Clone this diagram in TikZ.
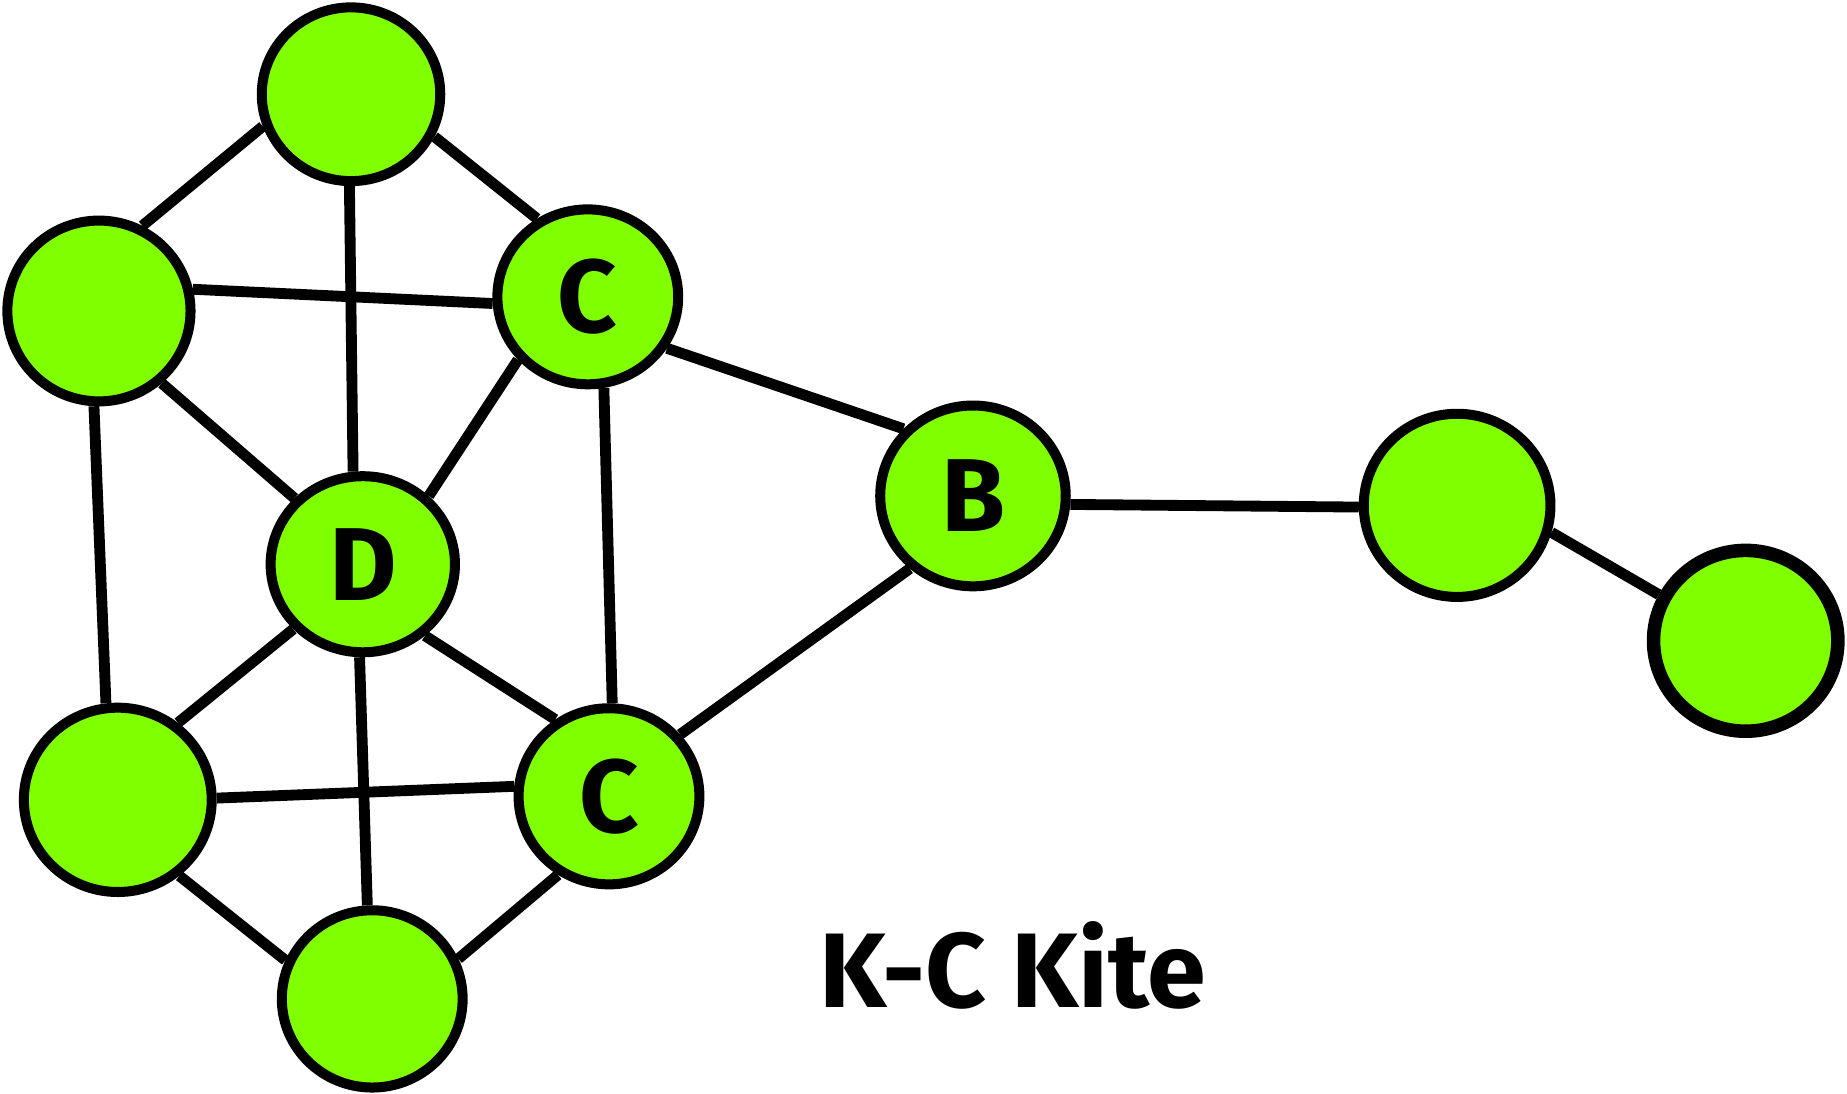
\documentclass[tikz,border=0pt]{standalone}
\usepackage{fontspec}
\setmainfont{Fira Sans}
\usetikzlibrary{shapes.geometric,backgrounds}
\definecolor{nodegreen}{RGB}{127,255,0}
\tikzset{
  vtx/.style 2 args={ellipse, draw=black, fill=nodegreen, line width=4.25pt,
    inner sep=0pt, minimum width=#1, minimum height=#2,
    font=\fontsize{44}{44}\selectfont\bfseries},
  edge/.style={draw=black, line width=4.6pt},
  title/.style={font=\fontsize{45}{46}\selectfont\bfseries, inner sep=0pt}
}
\begin{document}
\begin{tikzpicture}[x=0.5pt,y=-0.5pt]
\useasboundingbox (0,0) rectangle (1568,928);
\node[vtx={75.75pt}{73.75pt}] (top) at (298,80) {};
\node[vtx={77.75pt}{76.75pt}] (L1) at (84,264) {};
\node[vtx={76.75pt}{74.25pt}] (Ct) at (499,252) {C};
\node[vtx={78.25pt}{74.75pt}] (D) at (308,479) {D};
\node[vtx={78.75pt}{76.75pt}] (B) at (826,421) {B};
\node[vtx={79.25pt}{77.75pt}] (R1) at (1237,429) {};
\node[vtx={78.25pt}{76.75pt}, line width=5.75pt] (R2) at (1482,544) {};
\node[vtx={79.75pt}{78.25pt}] (BL) at (100,679) {};
\node[vtx={76.75pt}{74.75pt}] (Cb) at (517,676) {C};
\node[vtx={76.75pt}{75.25pt}] (Bot) at (316,848) {};
\begin{scope}[on background layer]
\draw[edge] (top.200) -- (L1.63);
\draw[edge] (top.333) -- (Ct.123);
\draw[edge] (top.269) -- (D.96);
\draw[edge] (L1.13) -- (Ct.184);
\draw[edge] (L1.311) -- (D.136);
\draw[edge] (L1.267) -- (BL.97);
\draw[edge] (Ct.222) -- (D.46);
\draw[edge] (Ct.280) -- (Cb.88);
\draw[edge] (Ct.327) -- (B.136);
\draw[edge] (D.223) -- (BL.52);
\draw[edge] (D.311) -- (Cb.125);
\draw[edge] (D.268) -- (Bot.93);
\draw[edge] (BL.1) -- (Cb.174);
\draw[edge] (BL.309) -- (Bot.156);
\draw[edge] (Cb.237) -- (Bot.25);
\draw[edge] (Cb.41) -- (B.229);
\draw[edge] (B.355) -- (R1.181);
\draw[edge] (R1.344) -- (R2.152);
\end{scope}
\node[title, anchor=base west] (ttl) at (695,855) {K-C Kite};
\end{tikzpicture}
\end{document}
